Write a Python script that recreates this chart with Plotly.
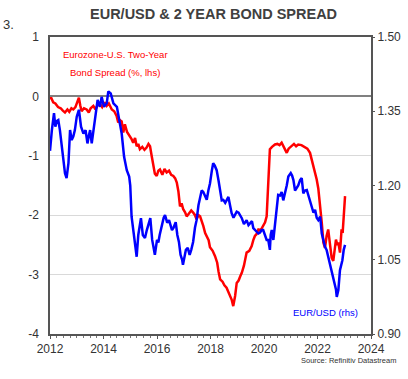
import plotly.graph_objects as go

# ---- data ----
spread_x = [2012.00, 2012.04, 2012.12, 2012.2, 2012.3, 2012.4, 2012.48, 2012.56, 2012.65, 2012.72, 2012.8, 2012.87, 2012.95,
            2013.02, 2013.08, 2013.13, 2013.18, 2013.27, 2013.37, 2013.45, 2013.52, 2013.62, 2013.7, 2013.78, 2013.87, 2013.95,
            2014.05, 2014.12, 2014.2, 2014.31, 2014.4, 2014.49, 2014.55, 2014.62, 2014.68, 2014.74, 2014.8, 2014.88, 2014.99,
            2015.05, 2015.11, 2015.18, 2015.24, 2015.3, 2015.36, 2015.45, 2015.53, 2015.61, 2015.68, 2015.74, 2015.8, 2015.86, 2015.92, 2015.99,
            2016.05, 2016.11, 2016.2, 2016.28, 2016.36, 2016.45, 2016.53, 2016.61, 2016.68, 2016.74, 2016.8, 2016.86, 2016.92, 2016.98,
            2017.05, 2017.11, 2017.2, 2017.28, 2017.36, 2017.42, 2017.48, 2017.55, 2017.61, 2017.68, 2017.73, 2017.8, 2017.86, 2017.93, 2017.98,
            2018.08, 2018.17, 2018.25, 2018.3, 2018.36, 2018.45, 2018.52, 2018.6, 2018.68, 2018.74, 2018.79, 2018.85, 2018.92, 2018.98,
            2019.05, 2019.12, 2019.17, 2019.25, 2019.3, 2019.35, 2019.45, 2019.54, 2019.6, 2019.66, 2019.72, 2019.79, 2019.88, 2019.97,
            2020.04, 2020.1, 2020.13, 2020.16, 2020.19, 2020.22, 2020.3, 2020.41, 2020.5, 2020.58, 2020.66, 2020.75, 2020.85, 2020.92,
            2021.03, 2021.12, 2021.2, 2021.28, 2021.4, 2021.53, 2021.62, 2021.72, 2021.78, 2021.84, 2021.9, 2021.97,
            2022.03, 2022.09, 2022.16, 2022.22, 2022.28, 2022.34, 2022.4, 2022.47, 2022.53, 2022.59, 2022.64, 2022.69, 2022.74, 2022.78,
            2022.84, 2022.9, 2022.94, 2022.98, 2023.03]
spread_y = [-0.05, -0.02, -0.10, -0.12, -0.18, -0.20, -0.24, -0.27, -0.22, -0.26, -0.20, -0.22, -0.18,
            -0.10, -0.02, -0.15, -0.25, -0.20, -0.22, -0.27, -0.20, -0.16, -0.22, -0.15, -0.13, -0.18,
            -0.10, -0.16, -0.12, -0.22, -0.25, -0.33, -0.44, -0.40, -0.42, -0.61, -0.47, -0.60, -0.67,
            -0.72, -0.78, -0.70, -0.84, -0.80, -0.89, -0.85, -0.90, -0.86, -0.80, -0.84, -1.00, -1.17, -1.30, -1.34,
            -1.25, -1.23, -1.32, -1.22, -1.28, -1.25, -1.32, -1.34, -1.38, -1.45, -1.60, -1.85, -1.80, -1.90,
            -1.95, -2.02, -1.96, -1.92, -1.96, -2.00, -2.07, -2.00, -2.02, -2.10, -2.18, -2.30, -2.35, -2.42, -2.54,
            -2.60, -2.69, -2.80, -2.95, -3.08, -3.12, -3.18, -3.22, -3.30, -3.38, -3.42, -3.53, -3.36, -3.14,
            -3.10, -3.02, -2.97, -2.85, -2.75, -2.63, -2.60, -2.52, -2.42, -2.35, -2.32, -2.24, -2.25, -2.18,
            -2.12, -2.02, -1.70, -1.23, -1.00, -0.89, -0.85, -0.81, -0.80, -0.82, -0.78, -0.85, -0.95, -0.88,
            -0.84, -0.80, -0.84, -0.81, -0.82, -0.86, -0.88, -0.95, -1.05, -1.17, -1.25, -1.40,
            -1.55, -1.79, -2.13, -2.46, -2.55, -2.35, -2.24, -2.50, -2.72, -2.77, -2.55, -2.41, -2.50, -2.46,
            -2.63, -2.24, -2.30, -2.02, -1.68]

eurusd_x = [2012.0, 2012.02, 2012.07, 2012.15, 2012.2, 2012.25, 2012.31, 2012.37, 2012.44, 2012.5, 2012.56, 2012.62, 2012.69,
            2012.75, 2012.81, 2012.87, 2012.93, 2013.0, 2013.08, 2013.16, 2013.25, 2013.33, 2013.4, 2013.45, 2013.5, 2013.56,
            2013.64, 2013.71, 2013.78, 2013.87, 2013.93, 2014.02, 2014.12, 2014.18, 2014.27, 2014.37, 2014.45, 2014.5, 2014.59,
            2014.68, 2014.77, 2014.87, 2014.96, 2015.0, 2015.05, 2015.11, 2015.21, 2015.24,
            2015.3, 2015.35, 2015.4, 2015.47, 2015.55, 2015.62, 2015.68, 2015.75, 2015.82, 2015.88, 2015.92,
            2016.0, 2016.05, 2016.1, 2016.18, 2016.25, 2016.3, 2016.38, 2016.45, 2016.5, 2016.56, 2016.62, 2016.7, 2016.76,
            2016.82, 2016.88, 2016.94, 2016.97, 2017.03, 2017.08, 2017.15, 2017.22, 2017.28, 2017.35, 2017.42, 2017.48,
            2017.55, 2017.61, 2017.67, 2017.73, 2017.8, 2017.86, 2017.92, 2017.98, 2018.05, 2018.1, 2018.16, 2018.23,
            2018.3, 2018.36, 2018.42, 2018.48, 2018.55, 2018.6, 2018.67, 2018.73, 2018.79, 2018.86, 2018.92, 2018.98,
            2019.05, 2019.1, 2019.17, 2019.25, 2019.3, 2019.35, 2019.42, 2019.48, 2019.55, 2019.6, 2019.67, 2019.73,
            2019.79, 2019.85, 2019.91, 2019.97, 2020.04, 2020.1, 2020.16, 2020.22, 2020.25, 2020.29, 2020.35, 2020.41,
            2020.47, 2020.53, 2020.6, 2020.66, 2020.72, 2020.79, 2020.85, 2020.91, 2021.0, 2021.05, 2021.1, 2021.16,
            2021.22, 2021.28, 2021.35, 2021.41, 2021.47, 2021.53, 2021.6, 2021.66, 2021.72, 2021.78, 2021.85, 2021.91,
            2021.97, 2022.03, 2022.1, 2022.16, 2022.22, 2022.28, 2022.34, 2022.4, 2022.46, 2022.53, 2022.59, 2022.65,
            2022.69, 2022.72, 2022.78, 2022.84, 2022.9, 2022.93, 2022.98, 2023.03]
eurusd_y = [1.270, 1.285, 1.312, 1.346, 1.319, 1.330, 1.332, 1.312, 1.278, 1.245, 1.225, 1.215, 1.245,
            1.312, 1.292, 1.299, 1.312, 1.339, 1.353, 1.319, 1.305, 1.312, 1.285, 1.300, 1.312, 1.285,
            1.319, 1.339, 1.373, 1.359, 1.379, 1.359, 1.366, 1.390, 1.386, 1.366, 1.362, 1.359, 1.332,
            1.305, 1.258, 1.231, 1.218, 1.200, 1.137, 1.110, 1.070, 1.056,
            1.100, 1.114, 1.134, 1.100, 1.094, 1.110, 1.120, 1.134, 1.090, 1.070, 1.060,
            1.090, 1.085, 1.100, 1.120, 1.135, 1.140, 1.125, 1.130, 1.120, 1.110, 1.115, 1.126, 1.100,
            1.086, 1.060, 1.050, 1.040, 1.060, 1.070, 1.074, 1.060, 1.070, 1.086, 1.115, 1.130,
            1.160, 1.177, 1.190, 1.187, 1.180, 1.171, 1.190, 1.204, 1.230, 1.245, 1.240, 1.231,
            1.210, 1.191, 1.170, 1.171, 1.165, 1.170, 1.177, 1.160, 1.144, 1.135, 1.140, 1.147,
            1.145, 1.140, 1.134, 1.122, 1.126, 1.130, 1.120, 1.124, 1.128, 1.114, 1.110, 1.105,
            1.103, 1.105, 1.110, 1.110, 1.097, 1.090, 1.090, 1.070, 1.100, 1.110, 1.090, 1.124,
            1.150, 1.181, 1.180, 1.187, 1.170, 1.184, 1.200, 1.218, 1.225, 1.220, 1.211, 1.190,
            1.194, 1.200, 1.211, 1.215, 1.184, 1.190, 1.191, 1.180, 1.171, 1.160, 1.145, 1.151,
            1.135, 1.130, 1.137, 1.103, 1.090, 1.076, 1.070, 1.056, 1.040, 1.029, 1.016, 1.002,
            0.990, 0.975, 0.989, 1.029, 1.040, 1.049, 1.070, 1.080]

x_ticks = [2012, 2014, 2016, 2018, 2020, 2022, 2024]
left_ticks = [1, 0, -1, -2, -3, -4]
right_ticks = [1.50, 1.35, 1.20, 1.05, 0.90]

FONT = "Liberation Sans, Arial, sans-serif"
RED = "#ff0000"
BLUE = "#0000ff"

fig = go.Figure()
fig.add_trace(go.Scatter(x=spread_x, y=spread_y, mode="lines",
                         line=dict(color=RED, width=2.5), yaxis="y", showlegend=False))
fig.add_trace(go.Scatter(x=eurusd_x, y=eurusd_y, mode="lines",
                         line=dict(color=BLUE, width=2.5), yaxis="y2", showlegend=False))

L, R, T, B = 50, 37, 37, 45
W, H = 408, 379
pw, ph = W - L - R, H - T - B


def px(x):
    return (x - L) / pw


def py(y):
    return (H - B - y) / ph


fig.update_layout(
    width=W, height=H,
    margin=dict(l=L, r=R, t=T, b=B, autoexpand=False),
    paper_bgcolor="white", plot_bgcolor="white",
    font=dict(family=FONT, size=12, color="#333333"),
    hovermode=False,
    xaxis=dict(range=[2012, 2024], tickvals=x_ticks, ticktext=[str(v) for v in x_ticks],
               showgrid=False, zeroline=False,
               showline=True, linecolor="#555555", linewidth=1.5, mirror=True,
               ticks="outside", ticklen=3, tickcolor="#555555", tickwidth=1,
               minor=dict(dtick=0.25, tick0=2012, ticks="outside", ticklen=2, tickcolor="#777777", showgrid=False),
               tickfont=dict(size=12, color="#333333")),
    yaxis=dict(range=[-4, 1], tickvals=left_ticks, ticktext=[str(v) for v in left_ticks],
               showgrid=True, gridcolor="#d9d9d9", gridwidth=1,
               zeroline=True, zerolinecolor="#808080", zerolinewidth=1.5,
               showline=True, linecolor="#555555", linewidth=1.5, mirror=True,
               ticks="", ticklabelstandoff=7,
               tickfont=dict(size=12, color="#333333")),
    yaxis2=dict(range=[0.90, 1.50], overlaying="y", side="right",
                tickvals=right_ticks, ticktext=["%.2f" % v for v in right_ticks],
                showgrid=False, zeroline=False, showline=False,
                ticks="outside", ticklen=3, tickcolor="#555555",
                tickfont=dict(size=12, color="#333333")),
    annotations=[
        dict(text="<b>EUR/USD & 2 YEAR BOND SPREAD</b>", xref="paper", yref="paper",
             x=px(214), y=py(14), xanchor="center", yanchor="middle", showarrow=False,
             font=dict(size=14.5, color="#404040", family=FONT)),
        dict(text="3.", xref="paper", yref="paper", x=px(1), y=py(25),
             xanchor="left", yanchor="middle", showarrow=False,
             font=dict(size=13, color="#333333", family=FONT)),
        dict(text="Eurozone-U.S. Two-Year", xref="paper", yref="paper", x=px(115), y=py(55),
             xanchor="center", yanchor="middle", showarrow=False, font=dict(size=9.5, color=RED, family=FONT)),
        dict(text="Bond Spread (%, lhs)", xref="paper", yref="paper", x=px(115), y=py(72),
             xanchor="center", yanchor="middle", showarrow=False, font=dict(size=9.5, color=RED, family=FONT)),
        dict(text="EUR/USD (rhs)", xref="paper", yref="paper", x=px(325), y=py(312),
             xanchor="center", yanchor="middle", showarrow=False, font=dict(size=9.5, color=BLUE, family=FONT)),
        dict(text="Source: Refinitiv Datastream", xref="paper", yref="paper", x=px(398), y=py(360),
             xanchor="right", yanchor="middle", showarrow=False, font=dict(size=7.5, color="#333333", family=FONT)),
    ],
)

fig.write_html("out.html", config={"displayModeBar": False},
               post_script="document.body.style.margin='0';")
